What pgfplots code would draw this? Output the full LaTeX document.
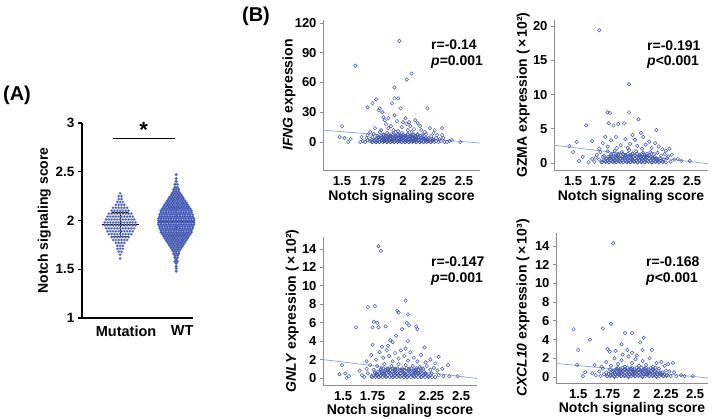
\documentclass[border=0pt]{standalone}
\usepackage{fontspec}
\setmainfont{Liberation Sans}
\usepackage{pgfplots}
\pgfplotsset{compat=1.18}
\definecolor{scat}{RGB}{66,86,170}
\definecolor{regl}{RGB}{140,160,212}
\definecolor{dotc}{RGB}{60,82,175}
\pgfplotsset{
  bpanel/.style={scale only axis, anchor=south west,
    axis x line=bottom, axis y line=left,
    axis line style={-, draw=black!45, line width=0.9pt},
    xtick={1.5,1.75,2,2.25,2.5}, xticklabels={1.5,1.75,2,2.25,2.5},
    xtick style={draw=none},
    ytick style={draw=black!45, line width=0.9pt},
    tick align=outside, major tick length=3pt,
    ticklabel style={font=\bfseries\fontsize{13}{13}\selectfont},
    label style={font=\bfseries\fontsize{14}{14}\selectfont},
    xlabel={Notch signaling score},
    xlabel style={at={(axis description cs:0.5,-0.18)}, anchor=center},
  },
  sc/.style={only marks, mark=o, mark size=1.75pt, color=scat, mark options={line width=0.5pt}},
  rl/.style={no marks, color=regl, line width=0.7pt},
}
\begin{document}
\begin{tikzpicture}
\path[use as bounding box] (0pt,0pt) rectangle (712pt,418pt);

% ---------------- Panel A ----------------
\begin{axis}[scale only axis, anchor=south west, at={(82pt,100pt)},
  width=111pt, height=195pt, xmin=-0.68, xmax=1.30, ymin=1, ymax=3,
  axis x line=bottom, axis y line=left,
  axis line style={-, black, line width=1.3pt},
  xtick={0,1}, xticklabels={Mutation,WT}, xtick style={draw=none},
  xticklabel style={xshift=6pt, font=\bfseries\fontsize{14.5}{14.5}\selectfont},
  ytick={1,1.5,2,2.5,3}, yticklabels={1,1.5,2,2.5,3},
  ytick style={black, line width=1.3pt}, tick align=outside, major tick length=4pt,
  yticklabel style={font=\bfseries\fontsize{13.5}{13.5}\selectfont},
  ylabel={Notch signaling score},
  ylabel style={at={(axis description cs:-0.34,0.5)}, anchor=center, font=\bfseries\fontsize{14}{14}\selectfont},
  clip=false]
\addplot[only marks, mark=*, mark size=1.3pt, mark options={fill=dotc, draw=dotc!60!white, line width=0.2pt}] coordinates {
(0,2.28)
(-.025,2.25)(.025,2.25)
(-.025,2.22)(.025,2.22)
(-.05,2.19)(0,2.19)(.05,2.19)
(-.075,2.16)(-.025,2.16)(.025,2.16)(.075,2.16)
(-.125,2.13)(-.075,2.13)(-.025,2.13)(.025,2.13)(.075,2.13)(.125,2.13)
(-.15,2.10)(-.1,2.10)(-.05,2.10)(0,2.10)(.05,2.10)(.1,2.10)(.15,2.10)
(-.2,2.07)(-.15,2.07)(-.1,2.07)(-.05,2.07)(0,2.07)(.05,2.07)(.1,2.07)(.15,2.07)(.2,2.07)
(-.225,2.04)(-.175,2.04)(-.125,2.04)(-.075,2.04)(-.025,2.04)(.025,2.04)(.075,2.04)(.125,2.04)(.175,2.04)(.225,2.04)
(-.25,2.01)(-.2,2.01)(-.15,2.01)(-.1,2.01)(-.05,2.01)(0,2.01)(.05,2.01)(.1,2.01)(.15,2.01)(.2,2.01)(.25,2.01)
(-.275,1.98)(-.225,1.98)(-.175,1.98)(-.125,1.98)(-.075,1.98)(-.025,1.98)(.025,1.98)(.075,1.98)(.125,1.98)(.175,1.98)(.225,1.98)(.275,1.98)
(-.275,1.95)(-.225,1.95)(-.175,1.95)(-.125,1.95)(-.075,1.95)(-.025,1.95)(.025,1.95)(.075,1.95)(.125,1.95)(.175,1.95)(.225,1.95)(.275,1.95)
(-.25,1.92)(-.2,1.92)(-.15,1.92)(-.1,1.92)(-.05,1.92)(0,1.92)(.05,1.92)(.1,1.92)(.15,1.92)(.2,1.92)(.25,1.92)
(-.225,1.89)(-.175,1.89)(-.125,1.89)(-.075,1.89)(-.025,1.89)(.025,1.89)(.075,1.89)(.125,1.89)(.175,1.89)(.225,1.89)
(-.2,1.86)(-.15,1.86)(-.1,1.86)(-.05,1.86)(0,1.86)(.05,1.86)(.1,1.86)(.15,1.86)(.2,1.86)
(-.15,1.83)(-.1,1.83)(-.05,1.83)(0,1.83)(.05,1.83)(.1,1.83)(.15,1.83)
(-.125,1.80)(-.075,1.80)(-.025,1.80)(.025,1.80)(.075,1.80)(.125,1.80)
(-.075,1.77)(-.025,1.77)(.025,1.77)(.075,1.77)
(-.05,1.74)(0,1.74)(.05,1.74)
(-.05,1.71)(0,1.71)(.05,1.71)
(-.025,1.68)(.025,1.68)
(0,1.65)
(0,1.61)
};
\addplot[only marks, mark=*, mark size=1.45pt, mark options={fill=dotc, draw=dotc!75!white, line width=0.2pt}] coordinates {
(1,2.47)
(1,2.43)
(1,2.40)
(.977,2.37)(1.023,2.37)
(.977,2.34)(1.023,2.34)
(.955,2.32)(1,2.32)(1.045,2.32)
(.955,2.30)(1,2.30)(1.045,2.30)
(.932,2.28)(.977,2.28)(1.023,2.28)(1.068,2.28)
(.91,2.26)(.955,2.26)(1,2.26)(1.045,2.26)(1.09,2.26)
(.887,2.24)(.932,2.24)(.977,2.24)(1.023,2.24)(1.068,2.24)(1.113,2.24)
(.865,2.22)(.91,2.22)(.955,2.22)(1,2.22)(1.045,2.22)(1.09,2.22)(1.135,2.22)
(.842,2.20)(.887,2.20)(.932,2.20)(.977,2.20)(1.023,2.20)(1.068,2.20)(1.113,2.20)(1.158,2.20)
(.82,2.18)(.865,2.18)(.91,2.18)(.955,2.18)(1,2.18)(1.045,2.18)(1.09,2.18)(1.135,2.18)(1.18,2.18)
(.797,2.16)(.842,2.16)(.887,2.16)(.932,2.16)(.977,2.16)(1.023,2.16)(1.068,2.16)(1.113,2.16)(1.158,2.16)(1.203,2.16)
(.775,2.14)(.82,2.14)(.865,2.14)(.91,2.14)(.955,2.14)(1,2.14)(1.045,2.14)(1.09,2.14)(1.135,2.14)(1.18,2.14)(1.225,2.14)
(.752,2.12)(.797,2.12)(.842,2.12)(.887,2.12)(.932,2.12)(.977,2.12)(1.023,2.12)(1.068,2.12)(1.113,2.12)(1.158,2.12)(1.203,2.12)(1.248,2.12)
(.73,2.10)(.775,2.10)(.82,2.10)(.865,2.10)(.91,2.10)(.955,2.10)(1,2.10)(1.045,2.10)(1.09,2.10)(1.135,2.10)(1.18,2.10)(1.225,2.10)(1.27,2.10)
(.73,2.08)(.775,2.08)(.82,2.08)(.865,2.08)(.91,2.08)(.955,2.08)(1,2.08)(1.045,2.08)(1.09,2.08)(1.135,2.08)(1.18,2.08)(1.225,2.08)(1.27,2.08)
(.707,2.06)(.752,2.06)(.797,2.06)(.842,2.06)(.887,2.06)(.932,2.06)(.977,2.06)(1.023,2.06)(1.068,2.06)(1.113,2.06)(1.158,2.06)(1.203,2.06)(1.248,2.06)(1.293,2.06)
(.707,2.04)(.752,2.04)(.797,2.04)(.842,2.04)(.887,2.04)(.932,2.04)(.977,2.04)(1.023,2.04)(1.068,2.04)(1.113,2.04)(1.158,2.04)(1.203,2.04)(1.248,2.04)(1.293,2.04)
(.685,2.02)(.73,2.02)(.775,2.02)(.82,2.02)(.865,2.02)(.91,2.02)(.955,2.02)(1,2.02)(1.045,2.02)(1.09,2.02)(1.135,2.02)(1.18,2.02)(1.225,2.02)(1.27,2.02)(1.315,2.02)
(.685,2.00)(.73,2.00)(.775,2.00)(.82,2.00)(.865,2.00)(.91,2.00)(.955,2.00)(1,2.00)(1.045,2.00)(1.09,2.00)(1.135,2.00)(1.18,2.00)(1.225,2.00)(1.27,2.00)(1.315,2.00)
(.685,1.98)(.73,1.98)(.775,1.98)(.82,1.98)(.865,1.98)(.91,1.98)(.955,1.98)(1,1.98)(1.045,1.98)(1.09,1.98)(1.135,1.98)(1.18,1.98)(1.225,1.98)(1.27,1.98)(1.315,1.98)
(.685,1.96)(.73,1.96)(.775,1.96)(.82,1.96)(.865,1.96)(.91,1.96)(.955,1.96)(1,1.96)(1.045,1.96)(1.09,1.96)(1.135,1.96)(1.18,1.96)(1.225,1.96)(1.27,1.96)(1.315,1.96)
(.707,1.94)(.752,1.94)(.797,1.94)(.842,1.94)(.887,1.94)(.932,1.94)(.977,1.94)(1.023,1.94)(1.068,1.94)(1.113,1.94)(1.158,1.94)(1.203,1.94)(1.248,1.94)(1.293,1.94)
(.707,1.92)(.752,1.92)(.797,1.92)(.842,1.92)(.887,1.92)(.932,1.92)(.977,1.92)(1.023,1.92)(1.068,1.92)(1.113,1.92)(1.158,1.92)(1.203,1.92)(1.248,1.92)(1.293,1.92)
(.73,1.90)(.775,1.90)(.82,1.90)(.865,1.90)(.91,1.90)(.955,1.90)(1,1.90)(1.045,1.90)(1.09,1.90)(1.135,1.90)(1.18,1.90)(1.225,1.90)(1.27,1.90)
(.73,1.88)(.775,1.88)(.82,1.88)(.865,1.88)(.91,1.88)(.955,1.88)(1,1.88)(1.045,1.88)(1.09,1.88)(1.135,1.88)(1.18,1.88)(1.225,1.88)(1.27,1.88)
(.752,1.86)(.797,1.86)(.842,1.86)(.887,1.86)(.932,1.86)(.977,1.86)(1.023,1.86)(1.068,1.86)(1.113,1.86)(1.158,1.86)(1.203,1.86)(1.248,1.86)
(.775,1.84)(.82,1.84)(.865,1.84)(.91,1.84)(.955,1.84)(1,1.84)(1.045,1.84)(1.09,1.84)(1.135,1.84)(1.18,1.84)(1.225,1.84)
(.797,1.82)(.842,1.82)(.887,1.82)(.932,1.82)(.977,1.82)(1.023,1.82)(1.068,1.82)(1.113,1.82)(1.158,1.82)(1.203,1.82)
(.82,1.80)(.865,1.80)(.91,1.80)(.955,1.80)(1,1.80)(1.045,1.80)(1.09,1.80)(1.135,1.80)(1.18,1.80)
(.842,1.78)(.887,1.78)(.932,1.78)(.977,1.78)(1.023,1.78)(1.068,1.78)(1.113,1.78)(1.158,1.78)
(.865,1.76)(.91,1.76)(.955,1.76)(1,1.76)(1.045,1.76)(1.09,1.76)(1.135,1.76)
(.887,1.74)(.932,1.74)(.977,1.74)(1.023,1.74)(1.068,1.74)(1.113,1.74)
(.91,1.72)(.955,1.72)(1,1.72)(1.045,1.72)(1.09,1.72)
(.932,1.70)(.977,1.70)(1.023,1.70)(1.068,1.70)
(.955,1.68)(1,1.68)(1.045,1.68)
(.955,1.66)(1,1.66)(1.045,1.66)
(.977,1.64)(1.023,1.64)
(.977,1.62)(1.023,1.62)
(1,1.60)
(.977,1.58)(1.023,1.58)
(1,1.56)
(1,1.53)
(1,1.51)
(1,1.48)
};
% mean and SD lines
\addplot[black, line width=1.6pt] coordinates {(-0.33,1.96)(0.33,1.96)};
\addplot[black, line width=1.1pt] coordinates {(-0.15,2.08)(0.15,2.08)};
\addplot[black, line width=1.1pt] coordinates {(-0.15,1.84)(0.15,1.84)};
\addplot[black, line width=1.1pt] coordinates {(0,1.84)(0,2.08)};
\addplot[black, line width=1.6pt] coordinates {(0.68,1.985)(1.32,1.985)};
\addplot[black, line width=1.1pt] coordinates {(0.85,2.135)(1.15,2.135)};
\addplot[black, line width=1.1pt] coordinates {(0.85,1.845)(1.15,1.845)};
\addplot[black, line width=1.1pt] coordinates {(1,1.845)(1,2.135)};
% significance bar
\addplot[black, line width=1.3pt] coordinates {(-0.125,2.84)(0.98,2.84)};
\node[font=\bfseries\fontsize{22}{22}\selectfont] at (axis cs:0.42,2.93) {*};
\end{axis}

% ---------------- Panel B: IFNG ----------------
\begin{axis}[bpanel, at={(323pt,248pt)}, width=157pt, height=150pt,
  xmin=1.344, xmax=2.631, ymin=-28.2, ymax=123,
  ytick={0,30,60,90,120}, yticklabels={0,30,60,90,120},
  ylabel={\textit{IFNG} expression},
  ylabel style={at={(axis description cs:-0.217,0.5)}, anchor=center}]
\addplot[sc] coordinates {
(1.97,102)(1.61,77)(2.07,69)(2.03,63)(1.93,55)(1.93,44)(1.96,44)(1.78,43)(1.75,39)(1.71,35)(1.91,39)(1.81,34)(1.83,30)(1.80,32)(1.84,25)(1.98,34)(2.20,34)(1.88,24)(1.93,27)(2.00,20)(2.03,18)(2.05,20)(1.50,16)(2.22,14)(2.32,14)(2.32,7)(1.48,5)(1.52,4)(1.57,3)(1.55,0)(2.40,2)(2.47,0)(2.36,0)(1.66,5)(1.65,0)
(1.86,18)(1.90,16)(1.95,21)(1.99,15)(2.06,16)(2.09,13)(2.12,19)(2.15,12)(2.18,10)(1.82,12)(1.77,14)(1.85,22)(1.92,12)(2.02,24)(2.10,22)(2.26,12)(1.73,10)(2.25,9)(2.14,16)(1.88,14)(2.04,12)(1.96,11)
(1.76,8)(1.79,6)(1.81,10)(1.84,7)(1.87,9)(1.89,6)(1.91,8)(1.94,10)(1.97,7)(1.99,9)(2.01,6)(2.04,8)(2.07,10)(2.09,7)(2.12,8)(2.16,6)(2.19,8)(2.23,6)(2.28,7)(1.71,7)
(1.70,4)(1.73,3)(1.75,5)(1.78,3)(1.80,5)(1.82,4)(1.85,3)(1.87,5)(1.90,4)(1.92,3)(1.94,5)(1.96,4)(1.98,3)(2.00,5)(2.02,4)(2.04,3)(2.06,5)(2.08,4)(2.10,3)(2.13,5)(2.15,4)(2.18,3)(2.21,4)(2.24,3)(2.27,4)(2.30,3)(2.33,4)
(1.67,1)(1.69,0)(1.71,2)(1.73,1)(1.75,0)(1.77,2)(1.79,1)(1.81,0)(1.83,2)(1.85,1)(1.87,0)(1.89,2)(1.91,1)(1.93,0)(1.95,2)(1.97,1)(1.99,0)(2.01,2)(2.03,1)(2.05,0)(2.07,2)(2.09,1)(2.11,0)(2.13,2)(2.15,1)(2.17,0)(2.19,2)(2.21,1)(2.23,0)(2.25,2)(2.27,1)(2.29,0)(2.31,1)(2.34,0)(2.38,1)
(1.78,0)(1.84,1)(1.90,0)(1.96,1)(2.02,0)(2.08,1)(2.14,0)(2.20,1)(1.86,2)(1.92,2)(1.98,2)(2.04,2)(2.10,2)
(1.745,0)(1.76,1.5)(1.775,0)(1.79,1.5)(1.805,0)(1.82,1.5)(1.835,0)(1.85,1.5)(1.865,0)(1.88,1.5)(1.895,0)(1.91,1.5)(1.925,0)(1.94,1.5)(1.955,0)(1.97,1.5)(1.985,0)(2.0,1.5)(2.015,0)(2.03,1.5)(2.045,0)(2.06,1.5)(2.075,0)(2.09,1.5)(2.105,0)(2.12,1.5)(2.135,0)(2.15,1.5)(2.165,0)(2.18,1.5)(2.195,0)(2.21,1.5)(2.225,0)(2.24,1.5)(2.255,0)
(1.78,3)(1.795,4.5)(1.81,3)(1.825,4.5)(1.84,3)(1.855,4.5)(1.87,3)(1.885,4.5)(1.9,3)(1.915,4.5)(1.93,3)(1.945,4.5)(1.96,3)(1.975,4.5)(1.99,3)(2.005,4.5)(2.02,3)(2.035,4.5)(2.05,3)(2.065,4.5)(2.08,3)(2.095,4.5)(2.11,3)(2.125,4.5)(2.14,3)(2.155,4.5)(2.17,3)(2.185,4.5)(2.2,3)
(1.82,6)(1.84,7.5)(1.86,6)(1.88,7.5)(1.9,6)(1.92,7.5)(1.94,6)(1.96,7.5)(1.98,6)(2.0,7.5)(2.02,6)(2.04,7.5)(2.06,6)(2.08,7.5)(2.1,6)(2.12,7.5)(2.14,6)(2.16,7.5)
};
\addplot[rl] coordinates {(1.344,12)(2.631,-1)};
\end{axis}

% ---------------- Panel B: GZMA ----------------
\begin{axis}[bpanel, at={(554pt,248pt)}, width=154pt, height=150pt,
  xmin=1.34, xmax=2.634, ymin=-1.02, ymax=20.9,
  ytick={0,5,10,15,20}, yticklabels={0,5,10,15,20},
  ylabel={GZMA expression (\,×\,10²)},
  ylabel style={at={(axis description cs:-0.20,0.5)}, anchor=center}]
\addplot[sc] coordinates {
(1.72,19.4)(1.97,11.5)(1.97,7.4)(1.79,7.4)(1.81,7.3)(1.61,5.5)(2.05,6.4)(2.2,4.8)(1.80,5.8)(1.84,5.5)(1.88,5.7)(1.93,5.8)(1.66,3.2)(1.47,2.5)(1.50,1.6)(1.53,3.1)(1.58,0.9)(1.55,0.3)(2.0,4.1)(2.07,4.4)(2.09,3.8)(2.14,3.1)(2.22,2.4)(2.31,2.1)(2.41,0.3)(2.48,0.3)(1.77,3.8)(1.75,2.9)(1.86,3.8)
(1.82,3.3)(1.90,2.6)(1.94,3.5)(1.98,2.8)(2.02,3.4)(2.04,2.5)(2.11,2.7)(2.16,2.2)(2.19,2.9)(2.25,2.0)(1.79,2.4)(1.72,2.1)(1.87,2.2)(2.28,1.8)(1.96,2.2)(2.08,2.1)
(1.70,1.2)(1.73,1.6)(1.76,1.1)(1.79,1.7)(1.82,1.3)(1.85,1.8)(1.88,1.2)(1.91,1.6)(1.94,1.1)(1.97,1.9)(2.00,1.4)(2.03,1.7)(2.06,1.2)(2.09,1.5)(2.12,1.1)(2.15,1.6)(2.18,1.3)(2.21,1.5)(2.24,1.1)(2.27,1.3)(2.30,1.0)(2.33,1.2)
(1.66,0.6)(1.69,0.8)(1.72,0.5)(1.75,0.9)(1.78,0.6)(1.81,0.8)(1.84,0.5)(1.87,0.9)(1.90,0.6)(1.93,0.8)(1.96,0.5)(1.99,0.9)(2.02,0.6)(2.05,0.8)(2.08,0.5)(2.11,0.9)(2.14,0.6)(2.17,0.8)(2.20,0.5)(2.23,0.7)(2.26,0.5)(2.29,0.7)(2.35,0.5)(2.38,0.6)
(1.63,0.1)(1.68,0.2)(1.74,0.1)(1.77,0.3)(1.80,0.1)(1.83,0.2)(1.86,0.1)(1.89,0.3)(1.92,0.1)(1.95,0.2)(1.98,0.1)(2.01,0.3)(2.04,0.1)(2.07,0.2)(2.10,0.1)(2.13,0.3)(2.16,0.1)(2.19,0.2)(2.22,0.1)(2.25,0.2)(2.28,0.1)(2.32,0.2)
(1.745,0.15)(1.76,0.4)(1.775,0.15)(1.79,0.4)(1.805,0.15)(1.82,0.4)(1.835,0.15)(1.85,0.4)(1.865,0.15)(1.88,0.4)(1.895,0.15)(1.91,0.4)(1.925,0.15)(1.94,0.4)(1.955,0.15)(1.97,0.4)(1.985,0.15)(2.0,0.4)(2.015,0.15)(2.03,0.4)(2.045,0.15)(2.06,0.4)(2.075,0.15)(2.09,0.4)(2.105,0.15)(2.12,0.4)(2.135,0.15)(2.15,0.4)(2.165,0.15)(2.18,0.4)(2.195,0.15)(2.21,0.4)(2.225,0.15)(2.24,0.4)(2.255,0.15)
(1.78,0.65)(1.795,0.9)(1.81,0.65)(1.825,0.9)(1.84,0.65)(1.855,0.9)(1.87,0.65)(1.885,0.9)(1.9,0.65)(1.915,0.9)(1.93,0.65)(1.945,0.9)(1.96,0.65)(1.975,0.9)(1.99,0.65)(2.005,0.9)(2.02,0.65)(2.035,0.9)(2.05,0.65)(2.065,0.9)(2.08,0.65)(2.095,0.9)(2.11,0.65)(2.125,0.9)(2.14,0.65)(2.155,0.9)(2.17,0.65)(2.185,0.9)(2.2,0.65)
(1.82,1.1)(1.84,1.35)(1.86,1.1)(1.88,1.35)(1.9,1.1)(1.92,1.35)(1.94,1.1)(1.96,1.35)(1.98,1.1)(2.0,1.35)(2.02,1.1)(2.04,1.35)(2.06,1.1)(2.08,1.35)(2.1,1.1)(2.12,1.35)(2.14,1.1)(2.16,1.35)
};
\addplot[rl] coordinates {(1.34,2.6)(2.634,-0.1)};
\end{axis}

% ---------------- Panel B: GNLY ----------------
\begin{axis}[bpanel, at={(323pt,33pt)}, width=154pt, height=148pt,
  xmin=1.33, xmax=2.635, ymin=-0.76, ymax=15.3,
  ytick={0,2,4,6,8,10,12,14}, yticklabels={0,2,4,6,8,10,12,14},
  ylabel={\textit{GNLY} expression (\,×\,10²)},
  ylabel style={at={(axis description cs:-0.20,0.5)}, anchor=center},
  xlabel style={at={(axis description cs:0.5,-0.176)}}]
\addplot[sc] coordinates {
(1.80,14.3)(1.82,13.8)(1.71,7.7)(1.77,7.8)(2.03,8.4)(1.96,7.3)(1.97,7.1)(2.05,6.9)(1.61,5.5)(1.76,6.1)(1.79,6.0)(1.75,5.5)(1.80,5.5)(1.86,5.6)(2.0,5.3)(2.04,6.0)(2.06,5.7)(2.12,5.6)(2.13,5.3)(1.90,4.1)(1.92,3.9)(1.95,4.6)(2.05,4.0)(2.19,3.3)(2.31,2.3)(2.39,1.4)(1.49,1.4)(1.47,0.4)(1.52,0.5)(1.55,0.2)(1.53,0.0)(2.47,0.2)(1.64,0.8)(1.75,3.6)(1.83,3.4)
(1.74,2.5)(1.78,2.0)(1.81,2.8)(1.84,2.2)(1.87,3.0)(1.89,2.4)(1.92,1.8)(1.94,2.7)(1.97,2.1)(1.99,3.0)(2.02,2.4)(2.05,1.9)(2.07,2.8)(2.10,2.2)(2.13,1.8)(2.16,2.5)(2.20,1.7)(2.24,2.0)(2.28,1.6)(1.70,1.8)(1.88,3.5)(2.03,3.2)
(1.70,1.0)(1.73,1.4)(1.76,0.9)(1.79,1.3)(1.82,1.0)(1.85,1.5)(1.88,0.9)(1.91,1.3)(1.94,1.0)(1.97,1.5)(2.00,0.9)(2.03,1.4)(2.06,1.0)(2.09,1.3)(2.12,0.9)(2.15,1.2)(2.18,1.0)(2.21,1.3)(2.24,0.9)(2.27,1.1)(2.30,0.8)(2.34,1.0)
(1.66,0.3)(1.68,0.1)(1.71,0.5)(1.74,0.2)(1.77,0.6)(1.80,0.1)(1.83,0.4)(1.86,0.2)(1.89,0.6)(1.92,0.1)(1.95,0.4)(1.98,0.2)(2.01,0.6)(2.04,0.1)(2.07,0.4)(2.10,0.2)(2.13,0.5)(2.16,0.1)(2.19,0.4)(2.22,0.2)(2.25,0.5)(2.28,0.1)(2.31,0.3)(2.35,0.2)(2.40,0.2)(1.85,0.5)(1.94,0.6)(2.02,0.3)(2.11,0.6)(1.78,0.3)
(1.745,0.1)(1.76,0.3)(1.775,0.1)(1.79,0.3)(1.805,0.1)(1.82,0.3)(1.835,0.1)(1.85,0.3)(1.865,0.1)(1.88,0.3)(1.895,0.1)(1.91,0.3)(1.925,0.1)(1.94,0.3)(1.955,0.1)(1.97,0.3)(1.985,0.1)(2.0,0.3)(2.015,0.1)(2.03,0.3)(2.045,0.1)(2.06,0.3)(2.075,0.1)(2.09,0.3)(2.105,0.1)(2.12,0.3)(2.135,0.1)(2.15,0.3)(2.165,0.1)(2.18,0.3)(2.195,0.1)(2.21,0.3)(2.225,0.1)(2.24,0.3)(2.255,0.1)
(1.78,0.5)(1.795,0.7)(1.81,0.5)(1.825,0.7)(1.84,0.5)(1.855,0.7)(1.87,0.5)(1.885,0.7)(1.9,0.5)(1.915,0.7)(1.93,0.5)(1.945,0.7)(1.96,0.5)(1.975,0.7)(1.99,0.5)(2.005,0.7)(2.02,0.5)(2.035,0.7)(2.05,0.5)(2.065,0.7)(2.08,0.5)(2.095,0.7)(2.11,0.5)(2.125,0.7)(2.14,0.5)(2.155,0.7)(2.17,0.5)(2.185,0.7)(2.2,0.5)
(1.82,0.85)(1.84,1.05)(1.86,0.85)(1.88,1.05)(1.9,0.85)(1.92,1.05)(1.94,0.85)(1.96,1.05)(1.98,0.85)(2.0,1.05)(2.02,0.85)(2.04,1.05)(2.06,0.85)(2.08,1.05)(2.1,0.85)(2.12,1.05)(2.14,0.85)(2.16,1.05)
};
\addplot[rl] coordinates {(1.33,2.0)(2.635,-0.05)};
\end{axis}

% ---------------- Panel B: CXCL10 ----------------
\begin{axis}[bpanel, at={(556pt,35pt)}, width=152pt, height=150pt,
  xmin=1.31, xmax=2.61, ymin=-0.64, ymax=15.4,
  ytick={0,2,4,6,8,10,12,14}, yticklabels={0,2,4,6,8,10,12,14},
  ylabel={\textit{CXCL10} expression (\,×\,10³)},
  ylabel style={at={(axis description cs:-0.217,0.5)}, anchor=center},
  xlabel style={at={(axis description cs:0.5,-0.176)}}]
\addplot[sc] coordinates {
(1.80,14.3)(1.46,5.1)(1.71,5.2)(1.78,5.7)(1.60,4.0)(1.90,4.7)(1.96,4.7)(2.06,4.2)(1.50,2.9)(1.75,3.0)(1.77,2.7)(1.82,2.8)(1.87,3.5)(1.92,2.9)(2.03,3.7)(2.05,2.9)(2.13,2.9)(1.96,2.6)(1.49,1.3)(1.64,1.3)(1.56,0.5)(1.54,0.1)(2.31,1.5)(2.41,0.1)(2.48,0.1)(2.21,1.6)
(1.74,1.6)(1.78,1.2)(1.81,2.0)(1.84,1.4)(1.87,1.8)(1.90,1.1)(1.93,2.2)(1.96,1.5)(1.99,1.9)(2.02,1.2)(2.05,1.7)(2.08,1.3)(2.11,2.0)(2.14,1.1)(2.17,1.5)(2.24,1.2)(2.27,1.4)(1.70,1.1)(2.00,2.3)(1.88,2.4)
(1.68,0.6)(1.71,0.9)(1.74,0.5)(1.77,0.8)(1.80,0.6)(1.83,0.9)(1.86,0.5)(1.89,0.8)(1.92,0.6)(1.95,0.9)(1.98,0.5)(2.01,0.8)(2.04,0.6)(2.07,0.9)(2.10,0.5)(2.13,0.8)(2.16,0.6)(2.19,0.9)(2.22,0.5)(2.25,0.7)(2.28,0.6)(2.32,0.5)
(1.65,0.2)(1.69,0.1)(1.72,0.3)(1.75,0.1)(1.78,0.2)(1.81,0.0)(1.84,0.3)(1.87,0.1)(1.90,0.2)(1.93,0.0)(1.96,0.3)(1.99,0.1)(2.02,0.2)(2.05,0.0)(2.08,0.3)(2.11,0.1)(2.14,0.2)(2.17,0.0)(2.20,0.3)(2.23,0.1)(2.26,0.2)(2.29,0.1)(2.34,0.1)(2.38,0.2)(1.62,0.4)
(1.745,0.1)(1.76,0.3)(1.775,0.1)(1.79,0.3)(1.805,0.1)(1.82,0.3)(1.835,0.1)(1.85,0.3)(1.865,0.1)(1.88,0.3)(1.895,0.1)(1.91,0.3)(1.925,0.1)(1.94,0.3)(1.955,0.1)(1.97,0.3)(1.985,0.1)(2.0,0.3)(2.015,0.1)(2.03,0.3)(2.045,0.1)(2.06,0.3)(2.075,0.1)(2.09,0.3)(2.105,0.1)(2.12,0.3)(2.135,0.1)(2.15,0.3)(2.165,0.1)(2.18,0.3)(2.195,0.1)(2.21,0.3)(2.225,0.1)(2.24,0.3)(2.255,0.1)
(1.78,0.45)(1.795,0.65)(1.81,0.45)(1.825,0.65)(1.84,0.45)(1.855,0.65)(1.87,0.45)(1.885,0.65)(1.9,0.45)(1.915,0.65)(1.93,0.45)(1.945,0.65)(1.96,0.45)(1.975,0.65)(1.99,0.45)(2.005,0.65)(2.02,0.45)(2.035,0.65)(2.05,0.45)(2.065,0.65)(2.08,0.45)(2.095,0.65)(2.11,0.45)(2.125,0.65)(2.14,0.45)(2.155,0.65)(2.17,0.45)(2.185,0.65)(2.2,0.45)
(1.82,0.8)(1.84,1.0)(1.86,0.8)(1.88,1.0)(1.9,0.8)(1.92,1.0)(1.94,0.8)(1.96,1.0)(1.98,0.8)(2.0,1.0)(2.02,0.8)(2.04,1.0)(2.06,0.8)(2.08,1.0)(2.1,0.8)(2.12,1.0)(2.14,0.8)(2.16,1.0)
};
\addplot[rl] coordinates {(1.31,1.45)(2.61,-0.1)};
\end{axis}

% ---------------- Text ----------------
\node[font=\bfseries\fontsize{20}{20}\selectfont] at (17pt,323pt) {(A)};
\node[font=\bfseries\fontsize{20}{20}\selectfont] at (256pt,402pt) {(B)};
\begin{scope}[every node/.style={anchor=west, inner sep=0pt, font=\bfseries\fontsize{14}{14}\selectfont}]
\node at (431pt,373pt) {r=-0.14};
\node at (431pt,356pt) {\textit{p}=0.001};
\node at (647pt,372pt) {r=-0.191};
\node at (647pt,356pt) {\textit{p}<0.001};
\node at (431pt,156pt) {r=-0.147};
\node at (431pt,139pt) {\textit{p}=0.001};
\node at (646pt,156pt) {r=-0.168};
\node at (646pt,139pt) {\textit{p}<0.001};
\end{scope}
\end{tikzpicture}
\end{document}
